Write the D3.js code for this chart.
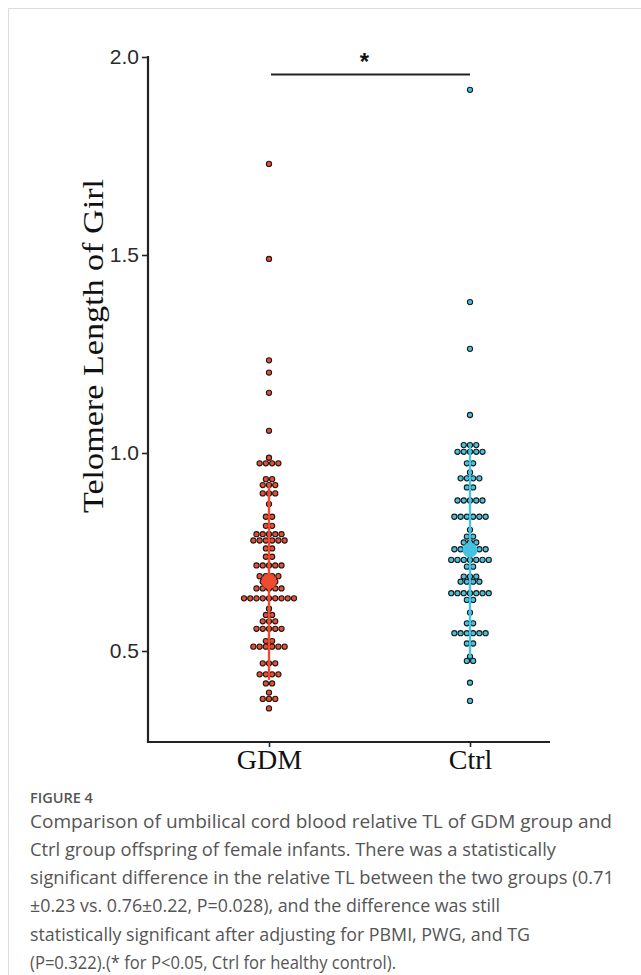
<!DOCTYPE html>
<html><head><meta charset="utf-8">
<script src="https://cdn.jsdelivr.net/npm/d3@7"></script>
<style>html,body{margin:0;padding:0;background:#fff;}</style>
</head><body>
<svg id="chart" width="641" height="975"></svg>
<script>
// ---- data ----
const groups = ["GDM", "Ctrl"];
const groupColors = ["#EE4B2F", "#45C3E2"];
const gdmValues = [1.73, 1.49, 1.234, 1.203, 1.152, 1.056,
  0.988, 0.974, 0.974, 0.974, 0.974,
  0.934, 0.934, 0.919, 0.919, 0.919, 0.898, 0.898, 0.898,
  0.871, 0.839, 0.839, 0.816, 0.816,
  0.795, 0.795, 0.795, 0.795, 0.795,
  0.779, 0.779, 0.779, 0.779, 0.779, 0.779,
  0.759, 0.759, 0.738, 0.738,
  0.716, 0.716, 0.716, 0.716, 0.716,
  0.689, 0.689, 0.689, 0.689, 0.675, 0.675, 0.675,
  0.658, 0.658, 0.658, 0.658, 0.658,
  0.633, 0.633, 0.633, 0.633, 0.633, 0.633, 0.633, 0.633, 0.633,
  0.607, 0.591, 0.591, 0.575, 0.575, 0.575,
  0.556, 0.556, 0.556, 0.556, 0.556,
  0.525, 0.525, 0.511, 0.511, 0.511, 0.511, 0.511, 0.511,
  0.469, 0.469, 0.469, 0.441, 0.441, 0.441, 0.441,
  0.418, 0.418, 0.395, 0.379, 0.379, 0.379, 0.355];
const ctrlValues = [1.917, 1.381, 1.263, 1.096,
  1.020, 1.020, 1.020, 1.003, 1.003, 1.003, 1.003, 1.003,
  0.974, 0.974, 0.951, 0.936, 0.936, 0.936, 0.936, 0.913, 0.913,
  0.880, 0.880, 0.880, 0.880, 0.880,
  0.839, 0.839, 0.839, 0.839, 0.839, 0.839,
  0.806, 0.789, 0.789, 0.774, 0.774, 0.774,
  0.757, 0.757, 0.757, 0.757, 0.757, 0.757,
  0.730, 0.730, 0.730, 0.730, 0.730, 0.730, 0.730,
  0.713, 0.713, 0.688, 0.688, 0.688, 0.675, 0.675, 0.675, 0.675,
  0.646, 0.646, 0.646, 0.646, 0.646, 0.646, 0.646,
  0.629, 0.629, 0.597, 0.570, 0.570,
  0.545, 0.545, 0.545, 0.545, 0.545, 0.545,
  0.519, 0.519, 0.486, 0.475, 0.475, 0.420, 0.374];
const meanValues = [0.6755, 0.755];
const sdValues = [0.2485, 0.265];
const yTicks = [0.5, 1.0, 1.5, 2.0];
const yTitle = "Telomere Length of Girl";
const sigLabel = "*";
const captionTitle = "FIGURE 4";
const captionLines = [
  "Comparison of umbilical cord blood relative TL of GDM group and",
  "Ctrl group offspring of female infants. There was a statistically",
  "significant difference in the relative TL between the two groups (0.71",
  "\u00B10.23 vs. 0.76\u00B10.22, P=0.028), and the difference was still",
  "statistically significant after adjusting for PBMI, PWG, and TG",
  "(P=0.322).(* for P<0.05, Ctrl for healthy control)."
];

// ---- layout (styling constants) ----
const captionWidths = [582, 526, 584, 470, 500, 366];
const svg = d3.select("#chart");
const axisLeftX = 148, axisRightX = 550, axisBottomY = 742;
const y = d3.scaleLinear().domain([0.5, 2.0]).range([651, 57]);
const x = d3.scalePoint().domain(groups).range([269, 470]);
const dotStep = 6.25;

// frame
svg.append("line").attr("x1", 8.5).attr("x2", 8.5).attr("y1", 8).attr("y2", 975)
  .attr("stroke", "#dcdcdc").attr("stroke-width", 1);
svg.append("line").attr("x1", 8).attr("x2", 641).attr("y1", 8.5).attr("y2", 8.5)
  .attr("stroke", "#dcdcdc").attr("stroke-width", 1);

// y axis
const yAxis = d3.axisLeft(y).tickValues(yTicks).tickFormat(d3.format(".1f"))
  .tickSize(6).tickPadding(3);
const gy = svg.append("g").attr("transform", `translate(${axisLeftX},0)`).call(yAxis);
gy.select(".domain").remove();
gy.selectAll(".tick line").attr("stroke", "#222").attr("stroke-width", 1.6);
gy.selectAll(".tick text").attr("font-family", "Liberation Sans, Arial, sans-serif")
  .attr("font-size", 21).attr("fill", "#2a2a2a");
svg.append("line").attr("x1", axisLeftX).attr("x2", axisLeftX)
  .attr("y1", y(2.0) - 1).attr("y2", axisBottomY + 1)
  .attr("stroke", "#222").attr("stroke-width", 2.2);

// x axis
const xAxis = d3.axisBottom(x).tickSize(5).tickPadding(1);
const gx = svg.append("g").attr("transform", `translate(0,${axisBottomY})`).call(xAxis);
gx.select(".domain").remove();
gx.selectAll(".tick line").attr("stroke", "#222").attr("stroke-width", 1.6);
gx.selectAll(".tick text").attr("font-family", "Liberation Serif, Times New Roman, serif")
  .attr("font-size", 28).attr("fill", "#111").attr("dy", "0.75em");
svg.append("line").attr("x1", axisLeftX - 1).attr("x2", axisRightX)
  .attr("y1", axisBottomY).attr("y2", axisBottomY)
  .attr("stroke", "#222").attr("stroke-width", 2.2);

// y title
svg.append("text")
  .attr("transform", `translate(103,346) rotate(-90)`)
  .attr("text-anchor", "middle")
  .attr("font-family", "Liberation Serif, Times New Roman, serif")
  .attr("font-size", 30).attr("fill", "#111")
  .attr("textLength", 334).attr("lengthAdjust", "spacingAndGlyphs")
  .text(yTitle);

// dots (rows of equal values centered on the group)
const allValues = [gdmValues, ctrlValues];
allValues.forEach((vals, gi) => {
  const rows = d3.group(vals, v => v);
  const pts = [];
  for (const [v, arr] of rows) {
    arr.forEach((_, i) => pts.push({v, off: (i - (arr.length - 1) / 2) * dotStep}));
  }
  svg.append("g").selectAll("circle").data(pts).join("circle")
    .attr("cx", d => x(groups[gi]) + d.off)
    .attr("cy", d => y(d.v))
    .attr("r", 2.6)
    .attr("fill", groupColors[gi])
    .attr("stroke", "#1a1a1a").attr("stroke-width", 1.1);
});

// mean ± sd
groups.forEach((g, gi) => {
  svg.append("line")
    .attr("x1", x(g)).attr("x2", x(g))
    .attr("y1", y(meanValues[gi] + sdValues[gi]))
    .attr("y2", y(meanValues[gi] - sdValues[gi]))
    .attr("stroke", groupColors[gi]).attr("stroke-width", 2.4);
  svg.append("circle")
    .attr("cx", x(g)).attr("cy", y(meanValues[gi]))
    .attr("r", 7.5).attr("fill", groupColors[gi]);
});

// significance bar
svg.append("line").attr("x1", x(groups[0]) + 2).attr("x2", x(groups[1]))
  .attr("y1", 74.5).attr("y2", 74.5).attr("stroke", "#222").attr("stroke-width", 2);
svg.append("text").attr("x", (x(groups[0]) + x(groups[1])) / 2 - 5).attr("y", 70)
  .attr("text-anchor", "middle")
  .attr("font-family", "Liberation Sans, Arial, sans-serif")
  .attr("font-size", 24).attr("font-weight", "bold").attr("fill", "#111")
  .text(sigLabel);

// caption
svg.append("text").attr("x", 30).attr("y", 803)
  .attr("font-family", "Open Sans, sans-serif").attr("font-size", 14.5)
  .attr("font-weight", 600).attr("fill", "#555").text(captionTitle);
svg.append("g").selectAll("text").data(captionLines).join("text")
  .attr("x", 30).attr("y", (d, i) => 827.5 + i * 28.3)
  .attr("font-family", "Open Sans, sans-serif").attr("font-size", 17.8)
  .attr("fill", "#555")
  .attr("textLength", (d, i) => captionWidths[i]).attr("lengthAdjust", "spacingAndGlyphs")
  .text(d => d);
</script>
</body></html>
